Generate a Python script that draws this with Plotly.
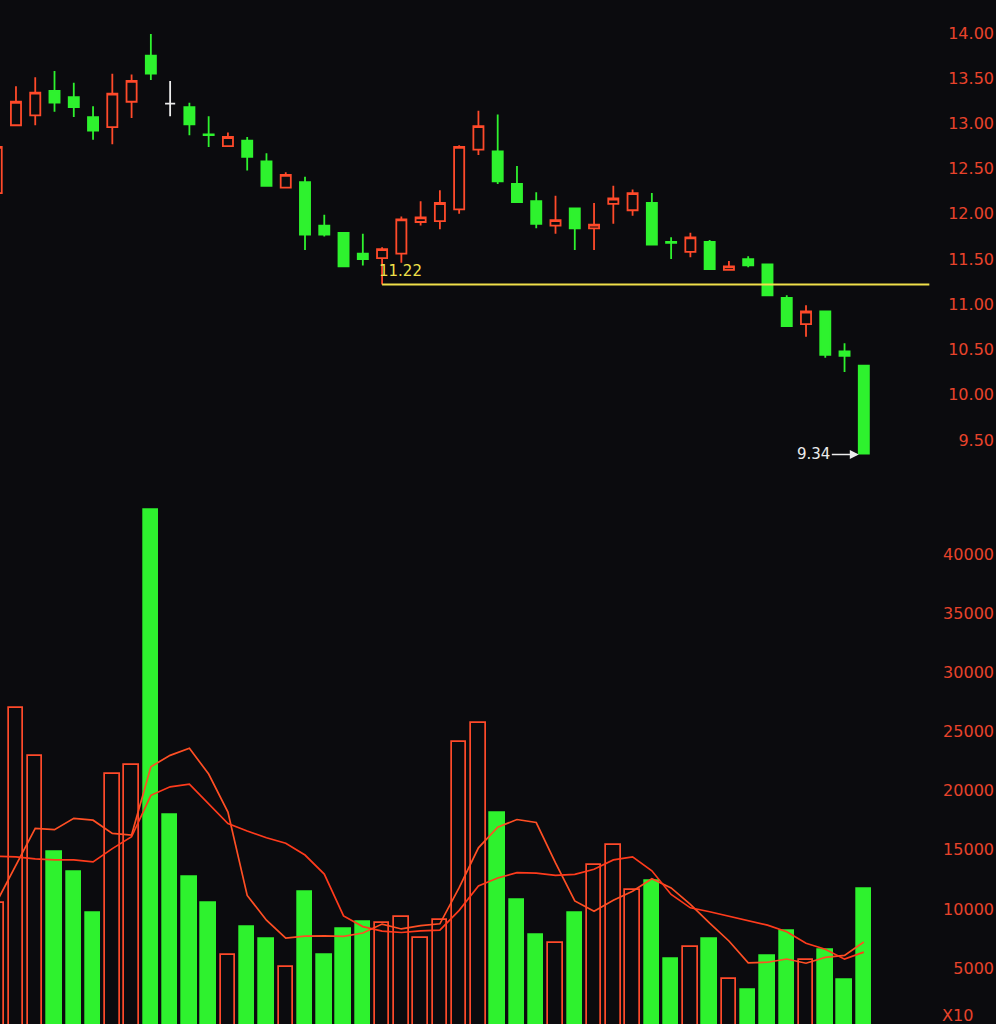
import plotly.graph_objects as go

# ---- daily price data (index = trading day) ----
days = list(range(46))
opens = [12.23, 12.98, 13.09, 13.36, 13.29, 13.07, 12.96, 13.24, 13.75, 13.22,
         13.18, 12.88, 12.75, 12.81, 12.58, 12.29, 12.35, 11.87, 11.79, 11.56,
         11.51, 11.56, 11.91, 11.92, 12.05, 12.71, 12.69, 12.33, 12.14, 11.87,
         12.06, 11.84, 12.11, 12.04, 12.12, 11.69, 11.58, 11.69, 11.38, 11.50,
         11.44, 11.07, 10.78, 10.92, 10.48, 10.32]
highs = [12.78, 13.41, 13.51, 13.58, 13.45, 13.19, 13.55, 13.54, 13.99, 13.47,
         13.23, 13.08, 12.90, 12.85, 12.67, 12.46, 12.41, 11.99, 11.80, 11.78,
         11.63, 11.97, 12.14, 12.26, 12.76, 13.14, 13.10, 12.53, 12.24, 12.20,
         12.07, 12.12, 12.31, 12.27, 12.23, 11.74, 11.79, 11.71, 11.48, 11.53,
         11.45, 11.10, 10.99, 10.93, 10.57, 10.33]
lows = [12.20, 12.97, 12.98, 13.13, 13.07, 12.82, 12.77, 13.06, 13.48, 13.08,
        12.87, 12.74, 12.74, 12.48, 12.30, 12.28, 11.60, 11.75, 11.41, 11.43,
        11.22, 11.46, 11.87, 11.83, 12.00, 12.65, 12.33, 12.12, 11.84, 11.78,
        11.60, 11.60, 11.89, 11.98, 11.65, 11.50, 11.52, 11.38, 11.37, 11.41,
        11.09, 10.75, 10.64, 10.41, 10.25, 9.34]
closes = [12.74, 13.24, 13.34, 13.23, 13.18, 12.92, 13.33, 13.47, 13.55, 13.22,
          12.99, 12.87, 12.85, 12.63, 12.31, 12.43, 11.77, 11.77, 11.42, 11.50,
          11.61, 11.94, 11.96, 12.12, 12.74, 12.97, 12.36, 12.13, 11.89, 11.93,
          11.84, 11.88, 12.17, 12.23, 11.66, 11.68, 11.74, 11.39, 11.42, 11.43,
          11.10, 10.76, 10.92, 10.44, 10.43, 9.35]

# ---- volume (hands) and its moving averages ----
volumes = [10500, 27000, 22900, 14800, 13100, 9700, 21400, 22200, 43700, 17900,
           12700, 10500, 6100, 8500, 7450, 5100, 11400, 6150, 8300, 8900,
           8850, 9350, 7550, 9070, 24150, 25700, 18100, 10760, 7800, 7100,
           9650, 13700, 15400, 11600, 12400, 5760, 6780, 7460, 4070, 3140,
           6040, 8140, 5680, 6530, 3980, 11700]
ma5 = [10600, 13700, 16800, 16700, 17660, 17500, 16380, 16240, 22020, 22980,
       23580, 21400, 18180, 11140, 9050, 7530, 7710, 7720, 7680, 7970,
       8720, 8310, 8590, 8744, 11794, 15164, 16914, 17556, 17302, 13892,
       10682, 9802, 10730, 11490, 12550, 11772, 10388, 8800, 7294, 5442,
       5498, 5770, 5414, 5906, 6074, 7206]
ma10 = [14450, 14400, 14230, 14150, 14150, 13980, 15100, 16100, 19600, 20320,
        20540, 18890, 17210, 16580, 16015, 15555, 14555, 12950, 9410, 8510,
        8125, 8010, 8155, 8212, 9882, 11942, 12612, 13073, 13023, 12843,
        12923, 13358, 14143, 14396, 13221, 11227, 10095, 9765, 9392, 8996,
        8635, 8079, 7107, 6600, 5758, 6352]

price_ticks = [9.5, 10.0, 10.5, 11.0, 11.5, 12.0, 12.5, 13.0, 13.5, 14.0]
price_labels = [f"{v:.2f}" for v in price_ticks]
vol_ticks = [5000, 10000, 15000, 20000, 25000, 30000, 35000, 40000]
vol_labels = [str(v) for v in vol_ticks]

support_level = 11.22
support_day = 20
doji_days = [9]

BG = "#0b0b0e"
RED = "#ff4a2a"
GREEN = "#2ef22e"
WHITE = "#ececec"
YELLOW = "#f0e04a"
AXIS_RED = "#e8432b"
FONT = "DejaVu Sans, Arial, sans-serif"

fig = go.Figure()

# candles (red hollow = up, green solid = down)
main = [d for d in days if d not in doji_days]
fig.add_trace(go.Candlestick(
    x=main,
    open=[opens[d] for d in main], high=[highs[d] for d in main],
    low=[lows[d] for d in main], close=[closes[d] for d in main],
    increasing=dict(line=dict(color=RED, width=1.8), fillcolor=BG),
    decreasing=dict(line=dict(color=GREEN, width=1.8), fillcolor=GREEN),
    whiskerwidth=0, yaxis="y", xaxis="x", hoverinfo="skip",
))
fig.add_trace(go.Candlestick(
    x=doji_days,
    open=[opens[d] for d in doji_days], high=[highs[d] for d in doji_days],
    low=[lows[d] for d in doji_days], close=[closes[d] for d in doji_days],
    increasing=dict(line=dict(color=WHITE, width=1.8), fillcolor=WHITE),
    decreasing=dict(line=dict(color=WHITE, width=1.8), fillcolor=WHITE),
    whiskerwidth=0, yaxis="y", xaxis="x", hoverinfo="skip",
))

# volume bars, coloured by candle direction
up = [c > o for o, c in zip(opens, closes)]
fig.add_trace(go.Bar(
    x=days, y=volumes, width=0.75,
    marker=dict(color=[BG if u else GREEN for u in up],
                line=dict(color=[RED if u else GREEN for u in up], width=1.7)),
    yaxis="y2", xaxis="x", hoverinfo="skip",
))
fig.add_trace(go.Scatter(x=days, y=ma5, mode="lines",
                         line=dict(color="#ff4f24", width=1.7),
                         yaxis="y2", xaxis="x", hoverinfo="skip"))
fig.add_trace(go.Scatter(x=days, y=ma10, mode="lines",
                         line=dict(color="#ff3b1c", width=1.7),
                         yaxis="y2", xaxis="x", hoverinfo="skip"))

# support line from the swing low
fig.add_shape(type="line", xref="x", yref="y",
              x0=support_day, x1=48.4, y0=support_level, y1=support_level,
              line=dict(color=YELLOW, width=2))
fig.add_annotation(x=support_day, y=support_level, xref="x", yref="y",
                   text=f"{support_level:.2f}", showarrow=False,
                   xanchor="left", yanchor="bottom", xshift=-5, yshift=2,
                   font=dict(family=FONT, size=15, color=YELLOW))

# latest low marker
last = days[-1]
fig.add_annotation(x=last, y=lows[last], xref="x", yref="y",
                   text=f"{lows[last]:.2f}", showarrow=True,
                   ax=-50, ay=0, arrowhead=2, arrowsize=1.2, arrowwidth=1.5,
                   arrowcolor=WHITE, standoff=5,
                   font=dict(family=FONT, size=15, color=WHITE))

# volume unit note at the lower right corner
fig.add_annotation(x=940 / 996, y=1 - 1004 / 1024, xref="paper", yref="paper",
                   text="X10", showarrow=False, xanchor="left", yanchor="top",
                   font=dict(family=FONT, size=16, color=AXIS_RED))

axis_common = dict(side="right", ticklabelposition="inside", showgrid=False,
                   zeroline=False, showline=False, ticks="", automargin=False,
                   ticklabelstandoff=-1,
                   tickfont=dict(family=FONT, size=16, color=AXIS_RED))

fig.update_layout(
    width=996, height=1024,
    margin=dict(l=0, r=0, t=0, b=0, pad=0),
    paper_bgcolor=BG, plot_bgcolor=BG,
    showlegend=False, boxgap=0.25, bargap=0,
    xaxis=dict(range=[0.171, 51.86], visible=False, automargin=False,
               rangeslider=dict(visible=False)),
    yaxis=dict(domain=[0.5303, 1.0], range=[9.046, 14.365],
               tickvals=price_ticks, ticktext=price_labels, **axis_common),
    yaxis2=dict(domain=[0.0, 0.5098], range=[279, 44388], anchor="x",
                tickvals=vol_ticks, ticktext=vol_labels, **axis_common),
)

fig.write_html("out.html")
